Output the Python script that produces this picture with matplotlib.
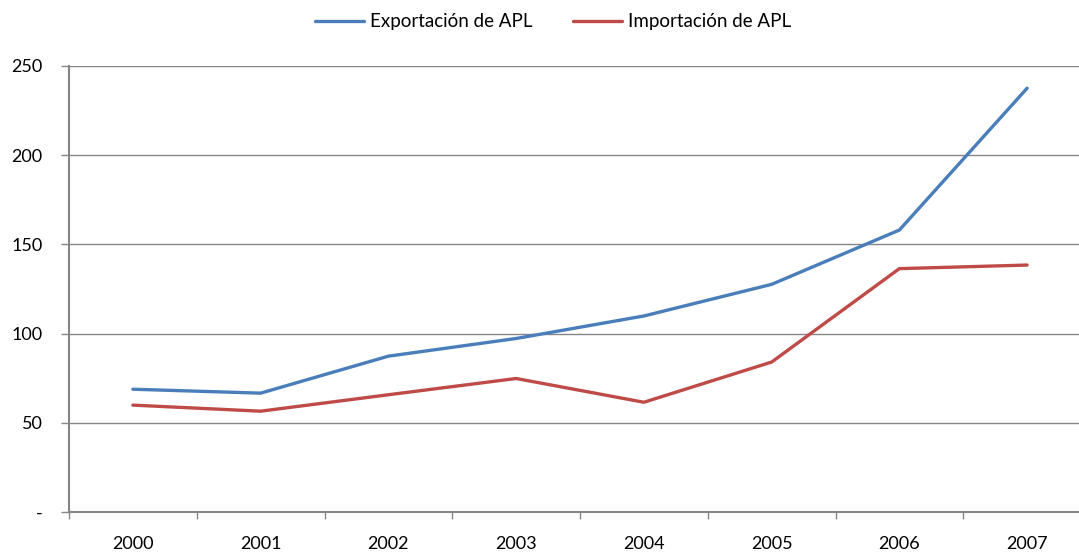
import matplotlib
matplotlib.use("Agg")
import matplotlib.pyplot as plt
import numpy as np

years = ["2000", "2001", "2002", "2003", "2004", "2005", "2006", "2007"]
exportacion = [68.9, 66.7, 87.4, 97.3, 109.9, 127.6, 158.0, 237.4]
importacion = [60.0, 56.6, 65.8, 74.9, 61.6, 84.1, 136.4, 138.4]
yticks = [0, 50, 100, 150, 200, 250]
ytick_labels = ["-", "50", "100", "150", "200", "250"]

plt.rcParams['font.family'] = ['Lato', 'DejaVu Sans']

fig = plt.figure(figsize=(10.79, 5.53), dpi=100)
ax = fig.add_axes([69/1079, 40.7/553, 1022/1079, 446.6/553])

x = np.arange(len(years))
l1, = ax.plot(x, exportacion, color="#4A7EBB", lw=2.4, solid_capstyle="round", label="Exportación de APL")
l2, = ax.plot(x, importacion, color="#BE4B48", lw=2.4, solid_capstyle="round", label="Importación de APL")

ax.set_xlim(-0.5, len(years) - 0.5)
ax.set_ylim(0, 250)
ax.set_yticks(yticks)
ax.set_yticklabels(ytick_labels)
ax.set_xticks(x)
ax.set_xticklabels(years)
ax.set_xticks(np.arange(-0.5, len(years) + 0.5, 1), minor=True)

gray = "#868686"
ax.grid(axis="y", color=gray, lw=1.0)
ax.set_axisbelow(True)
for s in ["top", "right"]:
    ax.spines[s].set_visible(False)
for s in ["left", "bottom"]:
    ax.spines[s].set_color(gray)
    ax.spines[s].set_linewidth(1.5)

ax.tick_params(axis="x", which="major", length=0, pad=17, labelsize=13)
ax.tick_params(axis="x", which="minor", length=5, color=gray, width=1)
ax.tick_params(axis="y", length=6, color=gray, width=1, pad=13, labelsize=13)

fig.legend(handles=[l1, l2], loc="center", bbox_to_anchor=(553/1079, 1 - 22/553),
           ncol=2, frameon=False, fontsize=13.5, handlelength=2.6, handletextpad=0.3,
           columnspacing=2.2)

fig.savefig("out.png", dpi=100)
